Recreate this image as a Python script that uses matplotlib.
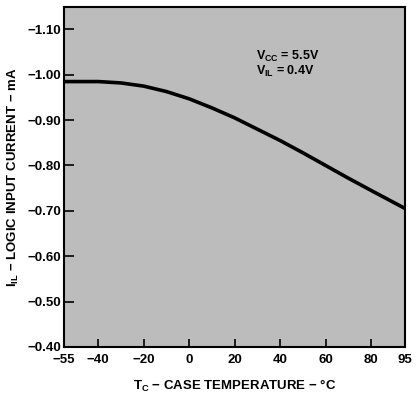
import numpy as np
import matplotlib
matplotlib.use('Agg')
import matplotlib.pyplot as plt

plt.rcParams['font.family'] = ['Liberation Sans', 'DejaVu Sans']
plt.rcParams['font.weight'] = 'bold'
plt.rcParams['axes.labelweight'] = 'bold'
plt.rcParams['mathtext.fontset'] = 'custom'
plt.rcParams['mathtext.rm'] = 'Liberation Sans:bold'
plt.rcParams['mathtext.it'] = 'Liberation Sans:bold'
plt.rcParams['mathtext.default'] = 'rm'

# courbe
temperature = [-55, -40, -30, -20, -10, 0, 10, 20, 30, 40, 50, 60, 70, 80, 95]
courant = [-0.985, -0.985, -0.982, -0.975, -0.963, -0.947, -0.927, -0.905,
           -0.880, -0.855, -0.828, -0.800, -0.772, -0.745, -0.705]

xticks = [-55, -40, -20, 0, 20, 40, 60, 80, 95]
yticks = [-1.10, -1.00, -0.90, -0.80, -0.70, -0.60, -0.50, -0.40]

fig = plt.figure(figsize=(4.16, 3.96), dpi=100)
ax = fig.add_axes([0.154, 0.124, 0.82, 0.859])
ax.set_facecolor('#bcbcbc')

ax.plot(temperature, courant, color='black', linewidth=2.6)

ax.set_xlim(-55, 95)
ax.set_ylim(-0.40, -1.15)
ax.set_xticks(xticks)
ax.set_xticklabels(['\u2212' + str(-t) if t < 0 else str(t) for t in xticks])
ax.set_yticks(yticks)
ax.set_yticklabels(['\u2212%.2f' % (-v) for v in yticks])
ax.tick_params(direction='in', length=7, width=1.2, labelsize=9.5, pad=2)
ax.tick_params(axis='x', length=6, pad=5)
for s in ax.spines.values():
    s.set_linewidth(1.5)

ax.text(29.5, -1.033, '$V_{CC}$ = 5.5V', fontsize=9)
ax.text(29.5, -1.0, '$V_{IL}$ = 0.4V', fontsize=9)

ax.set_xlabel('$T_C$ \u2212 CASE TEMPERATURE \u2212 \u00b0C', fontsize=9.5, labelpad=9)
ax.set_ylabel('$I_{IL}$ \u2212 LOGIC INPUT CURRENT \u2212 mA', fontsize=9.5, labelpad=5)

fig.savefig('out.png', dpi=100)
